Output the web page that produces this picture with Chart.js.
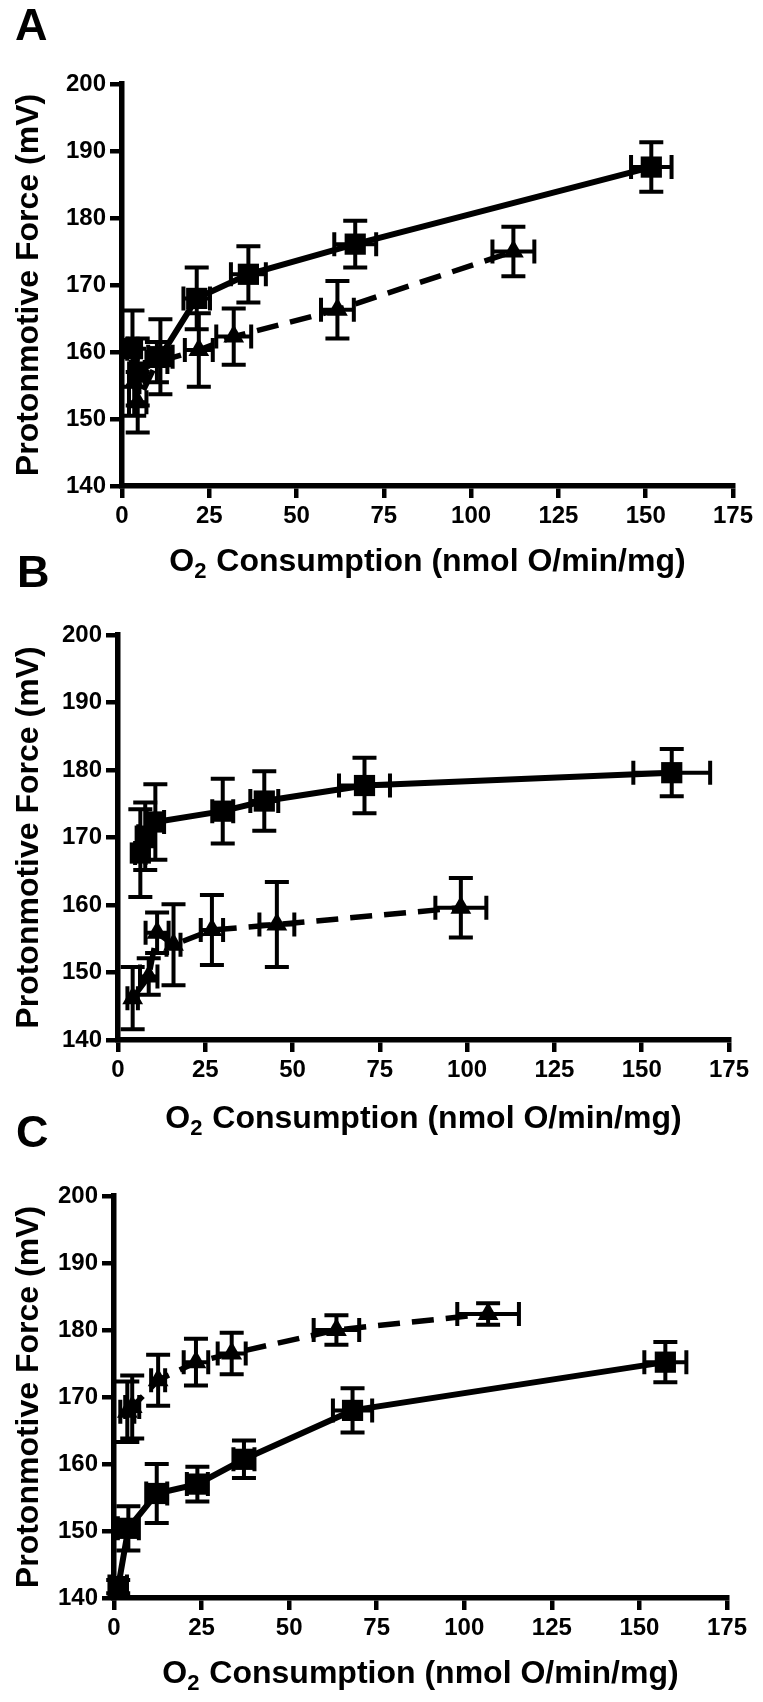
<!DOCTYPE html>
<html>
<head>
<meta charset="utf-8">
<script src="https://cdn.jsdelivr.net/npm/chart.js@4.4.1/dist/chart.umd.min.js"></script>
<style>
  html, body { margin: 0; padding: 0; background: #fff; }
  #page { position: relative; width: 763px; height: 1702px; overflow: hidden; background: #fff; }
  .panel { position: absolute; left: 0; width: 763px; }
  .panel canvas { display: block; }
  .letter {
    position: absolute; color: #000; line-height: 1;
    font-family: "Liberation Sans", Arial, Helvetica, sans-serif;
    font-weight: bold; font-size: 45px;
  }
</style>
</head>
<body>
<div id="page">
  <div class="panel" style="top:0px;height:590px"><canvas id="chartA" width="763" height="590"></canvas></div>
  <div class="panel" style="top:590px;height:560px"><canvas id="chartB" width="763" height="560"></canvas></div>
  <div class="panel" style="top:1150px;height:552px"><canvas id="chartC" width="763" height="552"></canvas></div>
  <div class="letter" style="left:15px;top:2px">A</div>
  <div class="letter" style="left:17px;top:549px">B</div>
  <div class="letter" style="left:16px;top:1109px">C</div>
</div>
<script>
// Shared axis ticks and titles
const xTickValues = [0, 25, 50, 75, 100, 125, 150, 175];
const yTickValues = [140, 150, 160, 170, 180, 190, 200];
const xTitleParts = ['O', '2', ' Consumption (nmol O/min/mg)'];   // O, subscript 2, rest
const yAxisTitle = 'Protonmotive Force (mV)';

// Panel A
const aSquareX    = [3, 4.5, 11, 21.4, 36.2, 66.8, 151.6];
const aSquareY    = [160.5, 157, 159.3, 168, 171.6, 176.1, 187.6];
const aSquareXErr = [1.5, 2, 3.5, 3.8, 5, 6, 5.8];
const aSquareYErr = [5.7, 5, 5.6, 4.6, 4.2, 3.5, 3.7];
const aTriangleX    = [3.5, 4.5, 10, 22, 32, 61.7, 112.1];
const aTriangleY    = [155.5, 152.5, 158.5, 160.3, 162.3, 166.3, 175];
const aTriangleXErr = [1.5, 2.5, 3, 4, 5, 4.7, 6];
const aTriangleYErr = [5, 4.5, 3, 5.5, 4.2, 4.3, 3.7];

// Panel B
const bSquareX    = [6.4, 7.8, 10.7, 30, 41.9, 70.6, 158.6];
const bSquareY    = [167.7, 170.2, 172.3, 173.9, 175.4, 177.7, 179.6];
const bSquareXErr = [1.5, 2, 2.5, 3, 4, 7.3, 11];
const bSquareYErr = [6.5, 5, 5.6, 4.8, 4.4, 4.1, 3.5];
const bTriangleX    = [4.2, 8.8, 11.2, 15.9, 26.9, 45.5, 98.2];
const bTriangleY    = [146.2, 149.4, 155.9, 154.1, 156.3, 157.1, 159.6];
const bTriangleXErr = [1.5, 2.5, 3.3, 2, 3.2, 5, 7.3];
const bTriangleYErr = [4.6, 2.7, 3, 6, 5.2, 6.3, 4.4];

// Panel C
const cSquareX    = [1.2, 4.1, 12.2, 23.8, 37.1, 68.1, 157.4];
const cSquareY    = [141.7, 150.4, 155.6, 157.0, 160.7, 168.0, 175.2];
const cSquareXErr = [2.5, 3, 3, 3, 3, 5.6, 6];
const cSquareYErr = [1, 3.3, 4.4, 2.6, 2.8, 3.3, 3];
const cTriangleX    = [3.8, 5.2, 12.6, 23.4, 33.6, 63.5, 106.8];
const cTriangleY    = [167.8, 168.5, 172.5, 175.2, 176.5, 180.0, 182.4];
const cTriangleXErr = [2, 2, 2, 3.5, 4, 6.5, 8.8];
const cTriangleYErr = [4.5, 4.7, 3.8, 3.5, 3.1, 2.2, 1.6];

const FONT = 'Liberation Sans, Arial, Helvetica, sans-serif';
const INK = '#000';

// Horizontal and vertical error bars with end caps, placed through the chart scales
const errorBars = {
  id: 'errorBars',
  afterDatasetsDraw(chart) {
    const { ctx, scales: { x, y } } = chart;
    const cap = 12;
    ctx.save();
    ctx.strokeStyle = INK;
    ctx.lineWidth = 4;
    chart.data.datasets.forEach(ds => {
      ds.data.forEach((p, i) => {
        const px = x.getPixelForValue(p.x);
        const py = y.getPixelForValue(p.y);
        const xl = x.getPixelForValue(p.x - ds.xErr[i]);
        const xr = x.getPixelForValue(p.x + ds.xErr[i]);
        const yt = y.getPixelForValue(p.y + ds.yErr[i]);
        const yb = y.getPixelForValue(p.y - ds.yErr[i]);
        ctx.beginPath();
        ctx.moveTo(xl, py); ctx.lineTo(xr, py);
        ctx.moveTo(px, yt); ctx.lineTo(px, yb);
        ctx.moveTo(xl, py - cap); ctx.lineTo(xl, py + cap);
        ctx.moveTo(xr, py - cap); ctx.lineTo(xr, py + cap);
        ctx.moveTo(px - cap, yt); ctx.lineTo(px + cap, yt);
        ctx.moveTo(px - cap, yb); ctx.lineTo(px + cap, yb);
        ctx.stroke();
      });
    });
    ctx.restore();
  }
};

// X axis title with a true subscript "2", centred under the plot area
const xTitle = {
  id: 'xTitle',
  afterDraw(chart, args, opts) {
    const { ctx, chartArea } = chart;
    const size = 32, subSize = 22;
    const big = `bold ${size}px ${FONT}`, small = `bold ${subSize}px ${FONT}`;
    ctx.save();
    ctx.fillStyle = INK;
    ctx.textBaseline = 'alphabetic';
    ctx.font = big;
    const w0 = ctx.measureText(xTitleParts[0]).width;
    const w2 = ctx.measureText(xTitleParts[2]).width;
    ctx.font = small;
    const w1 = ctx.measureText(xTitleParts[1]).width + 1;
    const total = w0 + w1 + w2;
    let x = (chartArea.left + chartArea.right) / 2 - total / 2;
    const base = chartArea.bottom + opts.offset;
    ctx.font = big;
    ctx.fillText(xTitleParts[0], x, base);
    x += w0;
    ctx.font = small;
    ctx.fillText(xTitleParts[1], x, base + 7);
    x += w1;
    ctx.font = big;
    ctx.fillText(xTitleParts[2], x, base);
    ctx.restore();
  }
};

function series(xs, ys, xe, ye, marker) {
  const square = marker === 'square';
  return {
    data: xs.map((v, i) => ({ x: v, y: ys[i] })),
    xErr: xe,
    yErr: ye,
    showLine: true,
    borderColor: INK,
    backgroundColor: INK,
    borderWidth: square ? 6 : 5.5,
    borderDash: square ? [] : [22, 12],
    pointStyle: square ? 'rect' : 'triangle',
    pointRadius: square ? 15 : 12,
    pointBorderWidth: 0,
    pointBackgroundColor: INK,
    pointHoverRadius: square ? 15 : 12
  };
}

// box: plot-area edges in canvas pixels
function drawPanel(id, box, squares, triangles) {
  const canvas = document.getElementById(id);
  const H = canvas.height;
  const axisCommon = {
    type: 'linear',
    grid: { display: true, drawOnChartArea: false, drawTicks: true, tickLength: 12, lineWidth: 4.5, color: INK },
    border: { display: true, width: 5.5, color: INK },
    ticks: { color: INK, font: { family: FONT, weight: 'bold', size: 24 }, padding: 4, autoSkip: false, maxRotation: 0 }
  };
  new Chart(canvas, {
    type: 'scatter',
    data: { datasets: [squares, triangles] },
    options: {
      responsive: false,
      animation: false,
      events: [],
      layout: { padding: { top: box.top, right: 763 - box.right, left: 0, bottom: 0 } },
      plugins: {
        legend: { display: false }, tooltip: { enabled: false }, title: { display: false },
        xTitle: { offset: box.xTitleOffset }
      },
      scales: {
        x: Object.assign({}, axisCommon, {
          position: 'bottom', min: 0, max: 175,
          afterBuildTicks: s => { s.ticks = xTickValues.map(v => ({ value: v })); },
          afterFit: s => { s.height = H - box.bottom; }
        }),
        y: Object.assign({}, axisCommon, {
          position: 'left', min: 140, max: 200,
          afterBuildTicks: s => { s.ticks = yTickValues.map(v => ({ value: v })); },
          afterFit: s => { s.width = box.left; },
          title: { display: true, text: yAxisTitle, color: INK, font: { family: FONT, weight: 'bold', size: 32 }, padding: { top: 10, bottom: 0 } }
        })
      }
    },
    plugins: [errorBars, xTitle]
  });
}

drawPanel('chartA', { left: 122, right: 733, top: 84, bottom: 486, xTitleOffset: 85 },
  series(aSquareX, aSquareY, aSquareXErr, aSquareYErr, 'square'),
  series(aTriangleX, aTriangleY, aTriangleXErr, aTriangleYErr, 'triangle'));

drawPanel('chartB', { left: 118, right: 729, top: 45, bottom: 450, xTitleOffset: 88 },
  series(bSquareX, bSquareY, bSquareXErr, bSquareYErr, 'square'),
  series(bTriangleX, bTriangleY, bTriangleXErr, bTriangleYErr, 'triangle'));

drawPanel('chartC', { left: 114, right: 727, top: 46, bottom: 448, xTitleOffset: 85 },
  series(cSquareX, cSquareY, cSquareXErr, cSquareYErr, 'square'),
  series(cTriangleX, cTriangleY, cTriangleXErr, cTriangleYErr, 'triangle'));
</script>
</body>
</html>
